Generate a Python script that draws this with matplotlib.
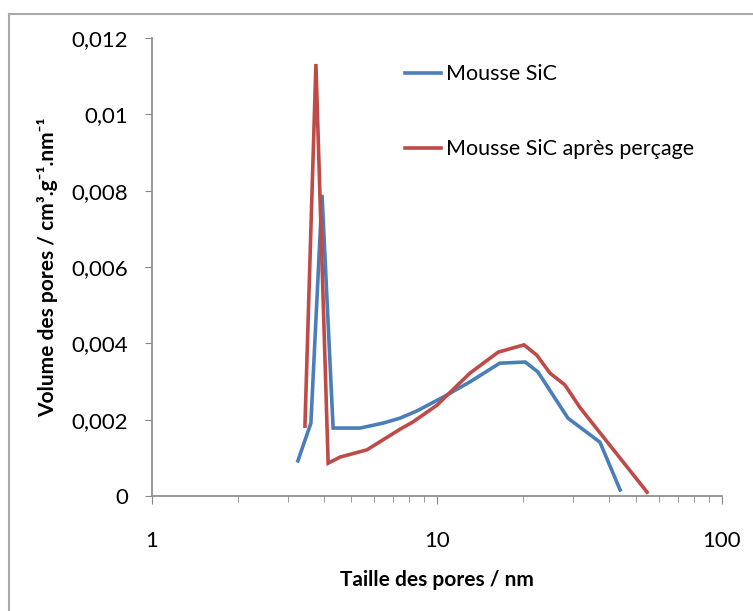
import matplotlib
matplotlib.use("Agg")
import matplotlib.pyplot as plt
from matplotlib.ticker import FuncFormatter, LogLocator, NullFormatter
from matplotlib.lines import Line2D

# pore size (nm) / pore volume (cm3.g-1.nm-1)
taille_sic = [3.25, 3.61, 3.95, 4.32, 5.37, 6.47, 7.42, 8.51, 10.5, 13.05, 16.6, 20.4, 22.6, 28.8, 37.3, 43.9]
volume_sic = [0.00092, 0.00191, 0.00789, 0.00178, 0.00178, 0.00191, 0.00204, 0.00223, 0.00259, 0.00299,
              0.00348, 0.00351, 0.00325, 0.00204, 0.00141, 0.00016]

taille_percage = [3.44, 3.76, 4.15, 4.57, 5.68, 7.42, 8.23, 10.0, 13.05, 16.4, 20.2, 22.4, 24.9, 28.1, 31.8, 54.6]
volume_percage = [0.00183, 0.01132, 0.00086, 0.00102, 0.00121, 0.00175, 0.00194, 0.00238, 0.00322, 0.00377,
                  0.00396, 0.00369, 0.00322, 0.00291, 0.00231, 0.0001]

labels = ["Mousse SiC", "Mousse SiC après perçage"]
couleurs = ["#4A7EBB", "#BE4B48"]

plt.rcParams['font.family'] = ['Lato', 'DejaVu Sans']

fig = plt.figure(figsize=(7.53, 6.11), dpi=100)
ax = fig.add_axes([152 / 753, 1 - 496 / 611, (722 - 152) / 753, (496 - 38) / 611])

ax.plot(taille_sic, volume_sic, color=couleurs[0], lw=2.6, solid_joinstyle='miter')
ax.plot(taille_percage, volume_percage, color=couleurs[1], lw=2.6, solid_joinstyle='miter')

ax.set_xscale('log')
ax.set_xlim(1, 100)
ax.set_ylim(0, 0.012)
ax.set_yticks([0, 0.002, 0.004, 0.006, 0.008, 0.01, 0.012])
ax.yaxis.set_major_formatter(FuncFormatter(lambda v, p: "0" if v == 0 else ("%g" % v).replace(".", ",")))
ax.xaxis.set_major_formatter(FuncFormatter(lambda v, p: "%d" % v))
ax.xaxis.set_minor_locator(LogLocator(base=10, subs=range(2, 10)))
ax.xaxis.set_minor_formatter(NullFormatter())

for s in ['top', 'right']:
    ax.spines[s].set_visible(False)
for s in ['left', 'bottom']:
    ax.spines[s].set_color('#888888')
    ax.spines[s].set_linewidth(1.2)
ax.tick_params(axis='both', which='both', color='#888888', labelsize=16)
ax.tick_params(axis='y', direction='out', length=5, pad=12)
ax.tick_params(axis='x', which='major', direction='out', length=6, pad=19)
ax.tick_params(axis='x', which='minor', direction='out', length=4)

ax.set_xlabel("Taille des pores / nm", fontsize=15, fontweight='bold', labelpad=14)
ax.set_ylabel("Volume des pores / cm³.g⁻¹.nm⁻¹", fontsize=15, fontweight='bold', labelpad=10)

handles = [Line2D([], [], color=c, lw=2.6) for c in couleurs]
ax.legend(handles, labels, loc='upper left', bbox_to_anchor=(0.41, 0.985), frameon=False,
          fontsize=15.5, handlelength=1.65, handletextpad=0.25, labelspacing=2.55)

# grey frame around the chart
fig.add_artist(Line2D([9 / 753, 1], [1 - 14 / 611, 1 - 14 / 611], color='#AAAAAA', lw=1.5, transform=fig.transFigure))
fig.add_artist(Line2D([9 / 753, 9 / 753], [0, 1 - 14 / 611], color='#AAAAAA', lw=1.5, transform=fig.transFigure))

fig.savefig("out.png", dpi=100)
